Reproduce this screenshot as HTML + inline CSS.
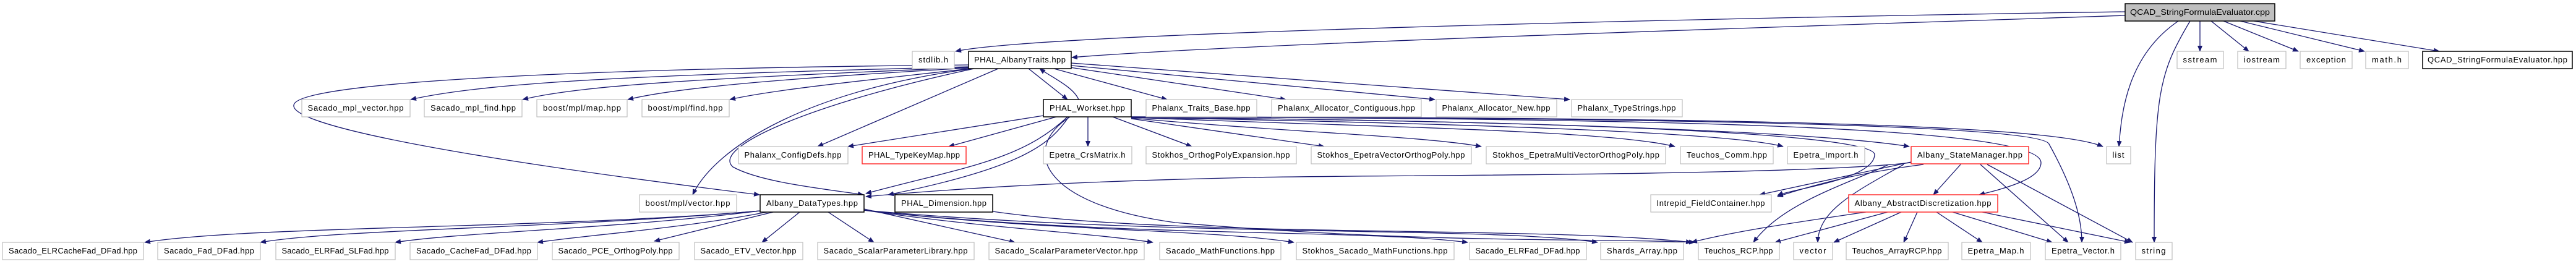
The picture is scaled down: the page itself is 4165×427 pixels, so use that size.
<!DOCTYPE html>
<html><head><meta charset="utf-8"><style>
html,body{margin:0;padding:0;background:#fff;width:4165px;height:427px;overflow:hidden}
svg{display:block}
text{font-family:"Liberation Sans",sans-serif;font-size:13px;fill:#000}
.e{fill:none;stroke:#191970;stroke-width:1.3}
</style></head><body>
<svg width="4165" height="427" viewBox="0 0 4165 427" xmlns="http://www.w3.org/2000/svg">
<defs><marker id="a" markerWidth="10" markerHeight="8" refX="9" refY="4" orient="auto" markerUnits="userSpaceOnUse"><path d="M0,0 L10,4 L0,8z" fill="#191970"/></marker></defs>
<g class="e" marker-end="url(#a)">
<path d="M3436,19 C3000,25 1700,50 1545,83"/>
<path d="M3436,25 C3000,40 2000,70 1733,93"/>
<path d="M3522,34 C3440,90 3430,180 3426,237"/>
<path d="M3541,34 C3490,120 3483,150 3483,392"/>
<path d="M3557,34 L3557,83"/>
<path d="M3575,34 L3636,83"/>
<path d="M3595,34 L3716,83"/>
<path d="M3622,34 L3823,83"/>
<path d="M3644,34 L3944,83"/>
<path d="M1566,105 C1000,110 480,130 475,170 C470,200 700,250 1228,315"/>
<path d="M1566,108 C1100,120 800,130 664,161"/>
<path d="M1566,109 C1200,125 950,135 845,161"/>
<path d="M1566,110 C1300,125 1100,140 1015,161"/>
<path d="M1568,111 C1400,130 1250,145 1180,161"/>
<path d="M1572,111 C1280,150 1150,250 1120,315"/>
<path d="M1575,111 C1300,170 1150,240 1185,270 C1230,295 1330,305 1396,315"/>
<path d="M1614,111 L1322,237"/>
<path d="M1663,111 L1726,161"/>
<path d="M1744,161 C1735,140 1700,125 1681,111"/>
<path d="M1704,111 L1887,161"/>
<path d="M1730,109 L2079,161"/>
<path d="M1732,106 L2320,161"/>
<path d="M1732,102 L2538,161"/>
<path d="M1687,187 L1371,237"/>
<path d="M1708,189 L1534,237"/>
<path d="M1726,189 C1650,260 1560,270 1400,313"/>
<path d="M1728,189 C1700,230 1660,270 1436,315"/>
<path d="M1730,189 C1650,240 1680,330 1900,360 C2300,395 2600,385 2740,392"/>
<path d="M1759,189 L1759,237"/>
<path d="M1799,189 L1927,237"/>
<path d="M1829,192 L2141,237"/>
<path d="M1829,191 C2100,215 2300,220 2395,237"/>
<path d="M1829,190 C2200,205 2600,210 2708,237"/>
<path d="M1829,190 C2400,200 2800,215 2883,237"/>
<path d="M1829,190 C2500,195 2950,215 3087,237"/>
<path d="M1829,189 C2600,190 3300,195 3400,237"/>
<path d="M1829,190 C2500,195 3030,215 3031,250 C3030,290 2900,305 2874,316"/>
<path d="M1829,189 C2600,192 3300,200 3300,263 C3300,290 3240,305 3200,315"/>
<path d="M1829,189 C2600,190 3300,200 3313,233 C3350,300 3366,350 3366,392"/>
<path d="M3090,263 C2900,285 2200,283 2025,287 C1800,292 1600,300 1400,318"/>
<path d="M3090,262 L2845,315"/>
<path d="M3110,266 C3000,280 2930,300 2874,318"/>
<path d="M3170,266 L3126,315"/>
<path d="M3078,266 C3000,310 2940,340 2939,392"/>
<path d="M3202,266 L3344,392"/>
<path d="M3213,266 L3448,392"/>
<path d="M3052,267 C2980,300 2880,330 2835,392"/>
<path d="M3052,343 L2870,392"/>
<path d="M3017,343 C2900,360 2800,375 2735,392"/>
<path d="M3074,343 L2965,392"/>
<path d="M3100,343 L3078,392"/>
<path d="M3131,343 L3205,392"/>
<path d="M3157,343 L3318,392"/>
<path d="M3205,343 L3444,392"/>
<path d="M1229,341 C900,370 400,365 234,392"/>
<path d="M1229,341 C900,370 550,370 421,392"/>
<path d="M1229,341 C1000,370 750,375 639,392"/>
<path d="M1240,343 C1100,370 950,380 869,392"/>
<path d="M1250,343 L1058,390"/>
<path d="M1293,343 L1232,392"/>
<path d="M1339,343 L1413,392"/>
<path d="M1397,338 L1641,392"/>
<path d="M1397,340 C1600,370 1750,375 1864,392"/>
<path d="M1397,340 C1700,375 1950,370 2092,392"/>
<path d="M1397,340 C1800,385 2200,370 2373,392"/>
<path d="M1397,340 C1900,385 2400,365 2583,392"/>
<path d="M1605,342 C1900,385 2500,365 2735,392"/>
</g>
<g>
<rect x="3436" y="6" width="242" height="28" fill="#bfbfbf" stroke="#000" stroke-width="1.5"/><text x="3557" y="24" text-anchor="middle" textLength="226" lengthAdjust="spacingAndGlyphs">QCAD_StringFormulaEvaluator.cpp</text>
<g fill="#fff" stroke="#bfbfbf" stroke-width="1.2">
<rect x="1475" y="83" width="68" height="28"/>
<rect x="3520" y="83" width="75" height="28"/>
<rect x="3618" y="83" width="78" height="28"/>
<rect x="3719" y="83" width="84" height="28"/>
<rect x="3825" y="83" width="69" height="28"/>
<rect x="488" y="161" width="175" height="28"/>
<rect x="686" y="161" width="158" height="28"/>
<rect x="868" y="161" width="146" height="28"/>
<rect x="1038" y="161" width="141" height="28"/>
<rect x="1853" y="161" width="179" height="28"/>
<rect x="2056" y="161" width="242" height="28"/>
<rect x="2322" y="161" width="195" height="28"/>
<rect x="2541" y="161" width="179" height="28"/>
<rect x="1194" y="237" width="177" height="28"/>
<rect x="1687" y="237" width="143" height="28"/>
<rect x="1853" y="237" width="243" height="28"/>
<rect x="2120" y="237" width="259" height="28"/>
<rect x="2403" y="237" width="290" height="28"/>
<rect x="2717" y="237" width="150" height="28"/>
<rect x="2890" y="237" width="125" height="28"/>
<rect x="3406" y="237" width="39" height="28"/>
<rect x="1034" y="315" width="157" height="28"/>
<rect x="2669" y="315" width="195" height="28"/>
<rect x="4" y="392" width="228" height="28"/>
<rect x="255" y="392" width="166" height="28"/>
<rect x="446" y="392" width="193" height="28"/>
<rect x="663" y="392" width="206" height="28"/>
<rect x="893" y="392" width="205" height="28"/>
<rect x="1123" y="392" width="175" height="28"/>
<rect x="1322" y="392" width="253" height="28"/>
<rect x="1599" y="392" width="251" height="28"/>
<rect x="1875" y="392" width="196" height="28"/>
<rect x="2096" y="392" width="255" height="28"/>
<rect x="2376" y="392" width="189" height="28"/>
<rect x="2588" y="392" width="134" height="28"/>
<rect x="2746" y="392" width="131" height="28"/>
<rect x="2900" y="392" width="63" height="28"/>
<rect x="2985" y="392" width="165" height="28"/>
<rect x="3172" y="392" width="111" height="28"/>
<rect x="3307" y="392" width="122" height="28"/>
<rect x="3453" y="392" width="59" height="28"/>
</g>
<g fill="#fff" stroke="#000" stroke-width="1.5">
<rect x="1566" y="83" width="166" height="28"/>
<rect x="3917" y="83" width="242" height="28"/>
<rect x="1687" y="161" width="142" height="28"/>
<rect x="1229" y="315" width="168" height="28"/>
<rect x="1447" y="315" width="158" height="28"/>
</g>
<g fill="#fff" stroke="#ff3030" stroke-width="1.5">
<rect x="1394" y="237" width="168" height="28"/>
<rect x="3090" y="237" width="190" height="28"/>
<rect x="2989" y="315" width="241" height="28"/>
</g>
<g text-anchor="middle" lengthAdjust="spacingAndGlyphs">
<text x="1509" y="101" textLength="48">stdlib.h</text>
<text x="1649" y="101" textLength="148">PHAL_AlbanyTraits.hpp</text>
<text x="3557" y="101" textLength="55">sstream</text>
<text x="3657" y="101" textLength="58">iostream</text>
<text x="3761" y="101" textLength="64">exception</text>
<text x="3859" y="101" textLength="48">math.h</text>
<text x="4038" y="101" textLength="226">QCAD_StringFormulaEvaluator.hpp</text>
<text x="575" y="179" textLength="155">Sacado_mpl_vector.hpp</text>
<text x="765" y="179" textLength="138">Sacado_mpl_find.hpp</text>
<text x="941" y="179" textLength="126">boost/mpl/map.hpp</text>
<text x="1108" y="179" textLength="121">boost/mpl/find.hpp</text>
<text x="1758" y="179" textLength="122">PHAL_Workset.hpp</text>
<text x="1942" y="179" textLength="159">Phalanx_Traits_Base.hpp</text>
<text x="2177" y="179" textLength="222">Phalanx_Allocator_Contiguous.hpp</text>
<text x="2419" y="179" textLength="175">Phalanx_Allocator_New.hpp</text>
<text x="2630" y="179" textLength="159">Phalanx_TypeStrings.hpp</text>
<text x="1282" y="255" textLength="157">Phalanx_ConfigDefs.hpp</text>
<text x="1478" y="255" textLength="148">PHAL_TypeKeyMap.hpp</text>
<text x="1758" y="255" textLength="123">Epetra_CrsMatrix.h</text>
<text x="1974" y="255" textLength="223">Stokhos_OrthogPolyExpansion.hpp</text>
<text x="2249" y="255" textLength="239">Stokhos_EpetraVectorOrthogPoly.hpp</text>
<text x="2548" y="255" textLength="270">Stokhos_EpetraMultiVectorOrthogPoly.hpp</text>
<text x="2792" y="255" textLength="130">Teuchos_Comm.hpp</text>
<text x="2952" y="255" textLength="105">Epetra_Import.h</text>
<text x="3185" y="255" textLength="170">Albany_StateManager.hpp</text>
<text x="3425" y="255" textLength="19">list</text>
<text x="1112" y="333" textLength="137">boost/mpl/vector.hpp</text>
<text x="1313" y="333" textLength="148">Albany_DataTypes.hpp</text>
<text x="1526" y="333" textLength="138">PHAL_Dimension.hpp</text>
<text x="2766" y="333" textLength="175">Intrepid_FieldContainer.hpp</text>
<text x="3109" y="333" textLength="221">Albany_AbstractDiscretization.hpp</text>
<text x="118" y="410" textLength="208">Sacado_ELRCacheFad_DFad.hpp</text>
<text x="338" y="410" textLength="146">Sacado_Fad_DFad.hpp</text>
<text x="542" y="410" textLength="173">Sacado_ELRFad_SLFad.hpp</text>
<text x="766" y="410" textLength="186">Sacado_CacheFad_DFad.hpp</text>
<text x="995" y="410" textLength="185">Sacado_PCE_OrthogPoly.hpp</text>
<text x="1210" y="410" textLength="155">Sacado_ETV_Vector.hpp</text>
<text x="1448" y="410" textLength="233">Sacado_ScalarParameterLibrary.hpp</text>
<text x="1724" y="410" textLength="231">Sacado_ScalarParameterVector.hpp</text>
<text x="1973" y="410" textLength="176">Sacado_MathFunctions.hpp</text>
<text x="2223" y="410" textLength="235">Stokhos_Sacado_MathFunctions.hpp</text>
<text x="2470" y="410" textLength="169">Sacado_ELRFad_DFad.hpp</text>
<text x="2655" y="410" textLength="114">Shards_Array.hpp</text>
<text x="2811" y="410" textLength="111">Teuchos_RCP.hpp</text>
<text x="2931" y="410" textLength="43">vector</text>
<text x="3067" y="410" textLength="145">Teuchos_ArrayRCP.hpp</text>
<text x="3227" y="410" textLength="91">Epetra_Map.h</text>
<text x="3368" y="410" textLength="102">Epetra_Vector.h</text>
<text x="3482" y="410" textLength="39">string</text>
</g>
</g>
</svg>
</body></html>
